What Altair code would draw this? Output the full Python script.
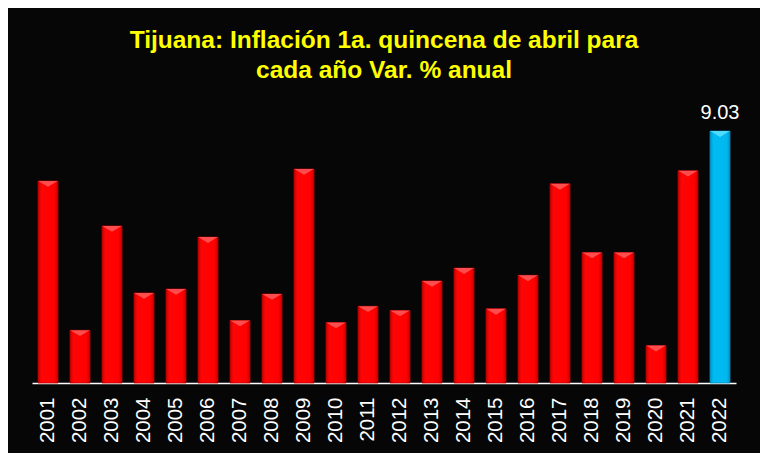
import altair as alt
import pandas as pd

years = [str(y) for y in range(2001, 2023)]
values = [7.24, 1.89, 5.63, 3.23, 3.37, 5.23, 2.24, 3.19, 7.67, 2.17, 2.75,
          2.60, 3.66, 4.12, 2.66, 3.86, 7.14, 4.68, 4.68, 1.34, 7.61, 9.03]
highlight_year = "2022"
highlight_label = "9.03"

df = pd.DataFrame({"year": years, "value": values})
df["hl"] = df["year"] == highlight_year

x_enc = alt.X("year:N", sort=years, title=None,
              scale=alt.Scale(paddingInner=0.375, paddingOuter=0.1875),
              axis=alt.Axis(labelAngle=-90, labelColor="white", labelFontSize=20.5,
                            labelFont="Liberation Sans", domainColor="white",
                            domainWidth=1.5, ticks=False, labelPadding=14,
                            labelAlign="right", labelBaseline="middle"))
y_enc = alt.Y("value:Q", title=None, scale=alt.Scale(domain=[0, 10]), axis=None)

red_grad = alt.Gradient(gradient="linear", x1=0, x2=1, y1=0, y2=0, stops=[
    alt.GradientStop(color="#c80000", offset=0),
    alt.GradientStop(color="#ff0505", offset=0.18),
    alt.GradientStop(color="#ff0000", offset=0.82),
    alt.GradientStop(color="#c80000", offset=1)])
blue_grad = alt.Gradient(gradient="linear", x1=0, x2=1, y1=0, y2=0, stops=[
    alt.GradientStop(color="#0096c8", offset=0),
    alt.GradientStop(color="#00bcf2", offset=0.18),
    alt.GradientStop(color="#00b8f0", offset=0.82),
    alt.GradientStop(color="#0096c8", offset=1)])

chevron = "M -1 0 L 1 0 L 0 0.6 Z"

base = alt.Chart(df)
red = base.transform_filter("!datum.hl").mark_bar(
    fill=red_grad, stroke="#b00000", strokeWidth=0.8).encode(x=x_enc, y=y_enc)
blue = base.transform_filter("datum.hl").mark_bar(
    fill=blue_grad, stroke="#0088b8", strokeWidth=0.8).encode(x=x_enc, y=y_enc)
red_top = base.transform_filter("!datum.hl").mark_point(
    shape=chevron, size=380, filled=True, fill="#ff5a5a", opacity=0.85,
    strokeWidth=0).encode(x=x_enc, y=y_enc)
blue_top = base.transform_filter("datum.hl").mark_point(
    shape=chevron, size=380, filled=True, fill="#5ee0ff", opacity=0.85,
    strokeWidth=0).encode(x=x_enc, y=y_enc)
label = base.transform_filter("datum.hl").mark_text(
    color="white", fontSize=20, font="Liberation Sans", baseline="alphabetic",
    dy=-12).encode(x=x_enc, y=y_enc, text=alt.value(highlight_label))

chart = alt.layer(red, blue, red_top, blue_top, label).properties(
    width=704, height=279,
    autosize=alt.AutoSizeParams(type="none"),
    padding={"left": 24, "top": 96, "right": 24, "bottom": 70},
    background="#060606",
    title=alt.TitleParams(
        text=["Tijuana: Inflación 1a. quincena de abril para",
              "cada año Var. %  anual"],
        color="#ffff00", fontSize=24.5, font="Liberation Sans", fontWeight="bold",
        anchor="middle", offset=20, lineHeight=30),
).configure_view(stroke=None)

chart.save("out.html", embed_options={"renderer": "svg", "actions": False})
